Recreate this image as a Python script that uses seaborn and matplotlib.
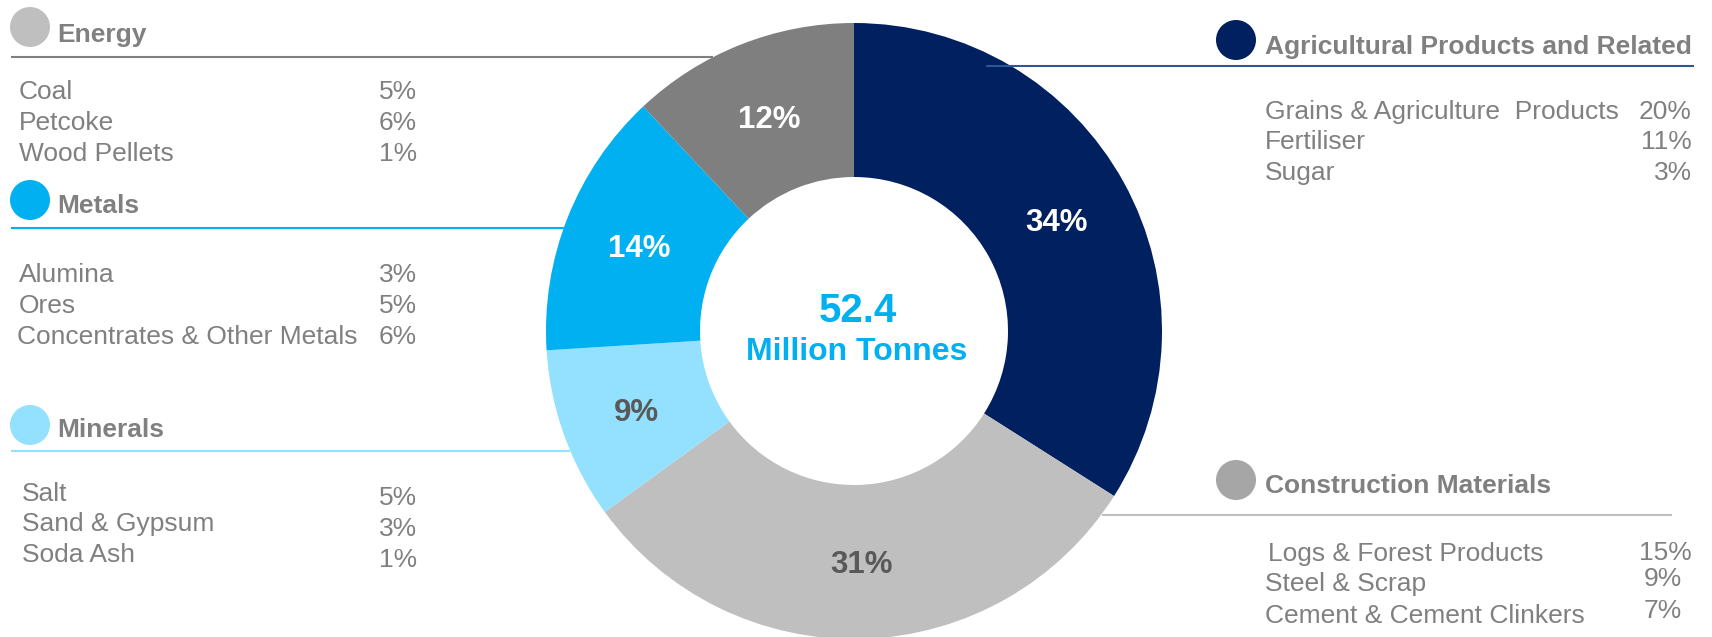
import matplotlib
matplotlib.use("Agg")
import matplotlib.pyplot as plt
import seaborn as sns
import pandas as pd

# ---------------- data ----------------
groups = ["Agricultural Products and Related", "Construction Materials",
          "Minerals", "Metals", "Energy"]
shares = [34, 31, 9, 14, 12]
slice_colors = ["#002060", "#BFBFBF", "#93E0FF", "#00B0F0", "#7F7F7F"]
pct_label_colors = ["white", "#595959", "#595959", "white", "white"]
dot_colors = ["#002060", "#A6A6A6", "#93E0FF", "#00B0F0", "#BFBFBF"]
rule_colors = ["#2F5597", "#BFBFBF", "#93E0FF", "#00B0F0", "#7F7F7F"]

agri_items = ["Grains & Agriculture  Products", "Fertiliser", "Sugar"]
agri_pcts = ["20%", "11%", "3%"]
constr_items = ["Logs & Forest Products", "Steel & Scrap", "Cement & Cement Clinkers"]
constr_pcts = ["15%", "9%", "7%"]
mineral_items = ["Salt", "Sand & Gypsum", "Soda Ash"]
mineral_pcts = ["5%", "3%", "1%"]
metal_items = ["Alumina", "Ores", "Concentrates & Other Metals"]
metal_pcts = ["3%", "5%", "6%"]
energy_items = ["Coal", "Petcoke", "Wood Pellets"]
energy_pcts = ["5%", "6%", "1%"]

total_value = "52.4"
total_unit = "Million Tonnes"

# ---------------- style ----------------
sns.set_theme(style="white")
plt.rcParams["font.family"] = ["Liberation Sans", "DejaVu Sans"]
TXT = "#808080"

W, H = 1712, 637
fig = plt.figure(figsize=(W / 100, H / 100), dpi=100)

# background axes in pixel coordinates (for legend blocks)
bg = fig.add_axes([0, 0, 1, 1], zorder=0)
bg.set_xlim(0, W)
bg.set_ylim(H, 0)
bg.axis("off")

# donut axes
cx, cy, R = 854, 331, 308
pax = fig.add_axes([(cx - R) / W, (H - cy - R) / H, 2 * R / W, 2 * R / H], zorder=1)
pax.patch.set_alpha(0)
wedges, texts, autotexts = pax.pie(
    shares, colors=slice_colors, startangle=90, counterclock=False,
    wedgeprops=dict(width=0.5, linewidth=0),
    autopct=lambda p: f"{p:.0f}%", pctdistance=0.75,
    textprops=dict(fontsize=22.5, fontweight="bold"))
for t, c in zip(autotexts, pct_label_colors):
    t.set_color(c)
    t.set_va("center_baseline")
pax.set_xlim(-1, 1)
pax.set_ylim(-1, 1)
pax.set_aspect("auto")
pax.axis("off")
pax.text(0.013, 0.065, total_value, ha="center", va="center", fontsize=29,
         fontweight="bold", color="#00B0F0")
pax.text(0.01, -0.067, total_unit, ha="center", va="center", fontsize=23,
         fontweight="bold", color="#00B0F0")

# overlay axes for the rules (drawn over the donut edge, like the original)
top = fig.add_axes([0, 0, 1, 1], zorder=2)
top.patch.set_alpha(0)
top.set_xlim(0, W)
top.set_ylim(H, 0)
top.axis("off")

# ---------------- legend blocks ----------------
# layout: group -> (dot x, dot y, header x, header baseline, rule y, rule x0, rule x1)
layout = {
    "Energy": (30, 27, 57, 42, 57, 11, 713),
    "Metals": (30, 200, 57, 213, 228, 11, 565),
    "Minerals": (30, 425, 57, 437, 451, 11, 570),
    "Agricultural Products and Related": (1236, 40, 1265, 54, 66, 986, 1694),
    "Construction Materials": (1236, 480, 1265, 493, 515, 1102, 1672),
}
dots = pd.DataFrame({
    "group": groups,
    "x": [layout[g][0] for g in groups],
    "y": [layout[g][1] for g in groups],
})
sns.scatterplot(data=dots, x="x", y="y", hue="group",
                palette=dict(zip(groups, dot_colors)), s=830, linewidth=0,
                legend=False, ax=bg)
bg.set_xlim(0, W)
bg.set_ylim(H, 0)
bg.axis("off")

for g, rc in zip(groups, rule_colors):
    dx, dy, hx, hy, ry, rx0, rx1 = layout[g]
    bg.text(hx, hy, g, fontsize=19, fontweight="bold", color=TXT,
            ha="left", va="baseline")
    top.plot([rx0, rx1], [ry, ry], color=rc, lw=1.5, solid_capstyle="butt")

FS = 19


def block(items, pcts, xs, ys, pxs, pys):
    for it, p, x, y, px, py in zip(items, pcts, xs, ys, pxs, pys):
        bg.text(x, y, it, fontsize=FS, color=TXT, ha="left", va="baseline")
        bg.text(px, py, p, fontsize=FS, color=TXT, ha="right", va="baseline")


block(energy_items, energy_pcts, [19, 19, 19], [99, 130, 161],
      [417] * 3, [99, 130, 161])
block(metal_items, metal_pcts, [19, 19, 17], [282, 313, 344],
      [417] * 3, [282, 313, 344])
block(mineral_items, mineral_pcts, [22, 22, 22], [501, 531, 562],
      [417] * 3, [505, 536, 567])
block(agri_items, agri_pcts, [1265] * 3, [119, 149, 180],
      [1692] * 3, [119, 149, 180])
block(constr_items, constr_pcts, [1268, 1265, 1265], [561, 591, 623],
      [1692, 1682, 1682], [560, 586, 618])

fig.savefig("out.png", dpi=100)
